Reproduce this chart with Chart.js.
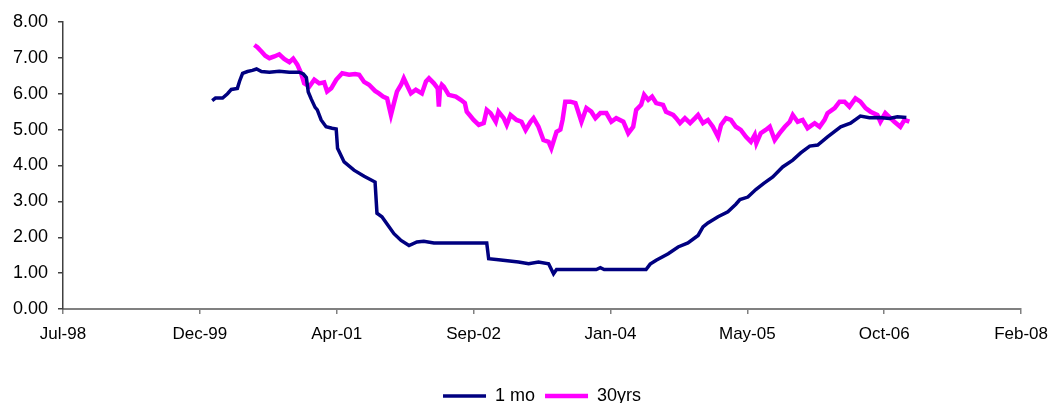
<!DOCTYPE html>
<html>
<head>
<meta charset="utf-8">
<script src="https://cdn.jsdelivr.net/npm/chart.js@4/dist/chart.umd.min.js"></script>
<style>
  html, body { margin: 0; padding: 0; background: #fff; }
  #wrap { width: 1058px; height: 403px; }
</style>
</head>
<body>
<div id="wrap"><canvas id="rates"></canvas></div>
<script>
// dates are Excel date serials (days since 1899-12-30)
const oneMoDates = [36545, 36557, 36583, 36601, 36615, 36637, 36645, 36656, 36674, 36692, 36707, 36725, 36754, 36790, 36827, 36863, 36878, 36889, 36896, 36907, 36921, 36929, 36943, 36961, 36983, 36998, 37003, 37027, 37063, 37100, 37140, 37147, 37165, 37191, 37209, 37235, 37264, 37293, 37318, 37355, 37464, 37548, 37555, 37591, 37664, 37701, 37737, 37774, 37792, 37803, 37948, 37963, 37977, 38130, 38145, 38167, 38211, 38247, 38283, 38320, 38338, 38356, 38393, 38429, 38458, 38473, 38502, 38531, 38560, 38593, 38629, 38666, 38695, 38728, 38757, 38793, 38841, 38877, 38913, 38946, 38983, 39019, 39048, 39081];
const oneMoRates = [5.81, 5.88, 5.88, 6.00, 6.12, 6.15, 6.35, 6.57, 6.62, 6.65, 6.69, 6.62, 6.60, 6.63, 6.60, 6.60, 6.55, 6.45, 6.05, 5.85, 5.62, 5.55, 5.27, 5.08, 5.04, 5.02, 4.48, 4.10, 3.87, 3.70, 3.54, 2.67, 2.57, 2.29, 2.10, 1.91, 1.77, 1.87, 1.89, 1.84, 1.84, 1.84, 1.40, 1.37, 1.31, 1.26, 1.31, 1.26, 0.98, 1.10, 1.10, 1.15, 1.10, 1.10, 1.25, 1.36, 1.54, 1.73, 1.84, 2.05, 2.29, 2.40, 2.57, 2.71, 2.92, 3.05, 3.12, 3.33, 3.50, 3.68, 3.96, 4.15, 4.35, 4.54, 4.57, 4.80, 5.08, 5.18, 5.38, 5.33, 5.34, 5.31, 5.36, 5.34];

const thirtyYrDates = [36699, 36710, 36725, 36739, 36754, 36772, 36790, 36808, 36827, 36841, 36856, 36870, 36881, 36900, 36918, 36936, 36954, 36965, 36980, 36998, 37020, 37045, 37067, 37082, 37100, 37118, 37140, 37154, 37169, 37184, 37198, 37209, 37220, 37235, 37245, 37256, 37271, 37289, 37311, 37326, 37337, 37355, 37369, 37373, 37377, 37384, 37391, 37409, 37435, 37453, 37468, 37475, 37486, 37500, 37519, 37537, 37548, 37562, 37581, 37591, 37610, 37621, 37635, 37657, 37675, 37690, 37708, 37719, 37737, 37755, 37774, 37784, 37803, 37817, 37825, 37835, 37854, 37872, 37894, 37912, 37930, 37945, 37963, 37985, 38003, 38021, 38047, 38065, 38083, 38094, 38112, 38123, 38138, 38152, 38167, 38192, 38203, 38229, 38240, 38254, 38272, 38291, 38309, 38320, 38338, 38356, 38374, 38393, 38404, 38422, 38440, 38458, 38476, 38495, 38513, 38527, 38533, 38549, 38567, 38582, 38600, 38618, 38637, 38655, 38666, 38684, 38702, 38720, 38746, 38764, 38782, 38793, 38819, 38837, 38855, 38873, 38895, 38913, 38932, 38950, 38975, 38986, 39004, 39023, 39037, 39059, 39074, 39092];
const thirtyYrRates = [7.36, 7.30, 7.18, 7.06, 6.99, 7.04, 7.10, 6.97, 6.88, 6.98, 6.81, 6.57, 6.29, 6.20, 6.39, 6.29, 6.32, 6.06, 6.15, 6.39, 6.57, 6.53, 6.55, 6.53, 6.33, 6.25, 6.08, 6.01, 5.92, 5.87, 5.41, 5.74, 6.06, 6.25, 6.43, 6.25, 6.01, 6.11, 6.01, 6.34, 6.43, 6.29, 6.15, 5.64, 6.11, 6.25, 6.20, 5.97, 5.92, 5.83, 5.74, 5.50, 5.40, 5.27, 5.13, 5.18, 5.55, 5.46, 5.22, 5.50, 5.32, 5.13, 5.41, 5.27, 5.22, 4.99, 5.22, 5.32, 5.08, 4.71, 4.66, 4.48, 4.94, 5.00, 5.27, 5.78, 5.78, 5.74, 5.22, 5.60, 5.50, 5.32, 5.46, 5.46, 5.22, 5.32, 5.22, 4.90, 5.08, 5.55, 5.69, 5.97, 5.83, 5.92, 5.74, 5.69, 5.50, 5.41, 5.32, 5.18, 5.32, 5.18, 5.32, 5.41, 5.18, 5.27, 5.08, 4.80, 5.13, 5.32, 5.27, 5.08, 4.99, 4.80, 4.66, 4.85, 4.62, 4.90, 4.99, 5.08, 4.71, 4.90, 5.08, 5.22, 5.41, 5.22, 5.27, 5.04, 5.18, 5.08, 5.27, 5.46, 5.60, 5.78, 5.78, 5.64, 5.87, 5.78, 5.60, 5.50, 5.41, 5.22, 5.46, 5.32, 5.22, 5.08, 5.27, 5.22];

// x axis: ticks every 500 days starting at serial 36000
const tickLabels = ['Jul-98', 'Dec-99', 'Apr-01', 'Sep-02', 'Jan-04', 'May-05', 'Oct-06', 'Feb-08'];
const xStart = 36000;
const xStep = 500;

const FONT = "'Liberation Sans', Arial, sans-serif";

function toPoints(dates, values) {
    return dates.map((d, i) => ({ x: d, y: values[i] }));
}

// centre the legend under the plot area instead of the whole canvas
const centreLegend = {
    id: 'centreLegend',
    afterLayout(chart) {
        const legend = chart.legend;
        const shift = (chart.chartArea.left + chart.chartArea.right) / 2 - (legend.left + legend.right) / 2;
        legend.left += shift;
        legend.right += shift;
    },
};

const ctx = document.getElementById('rates').getContext('2d');

new Chart(ctx, {
    type: 'line',
    data: {
        datasets: [
            {
                label: '1 mo',
                data: toPoints(oneMoDates, oneMoRates),
                borderColor: '#000080',
                backgroundColor: '#000080',
                borderWidth: 3.5,
                pointRadius: 0,
                tension: 0,
            },
            {
                label: '30yrs',
                data: toPoints(thirtyYrDates, thirtyYrRates),
                borderColor: '#ff00ff',
                backgroundColor: '#ff00ff',
                borderWidth: 4.5,
                pointRadius: 0,
                tension: 0,
            },
        ],
    },
    plugins: [centreLegend],
    options: {
        responsive: true,
        maintainAspectRatio: false,
        animation: false,
        layout: {
            padding: { left: 0, right: 34, top: 22, bottom: -12 },
        },
        plugins: {
            tooltip: { enabled: false },
            legend: {
                position: 'bottom',
                labels: {
                    usePointStyle: true,
                    pointStyle: 'line',
                    pointStyleWidth: 43,
                    boxHeight: 4,
                    padding: 10,
                    color: '#000',
                    font: { family: FONT, size: 18 },
                },
            },
        },
        scales: {
            x: {
                type: 'linear',
                min: xStart,
                max: xStart + xStep * (tickLabels.length - 1),
                afterFit: (scale) => { scale.height = 68; },
                ticks: {
                    stepSize: xStep,
                    autoSkip: false,
                    maxRotation: 0,
                    padding: 10,
                    color: '#000',
                    font: { family: FONT, size: 17 },
                    callback: (value) => tickLabels[Math.round((value - xStart) / xStep)],
                },
                grid: {
                    drawOnChartArea: false,
                    drawTicks: true,
                    tickLength: 5,
                    color: '#808080',
                    lineWidth: 1.5,
                },
                border: { color: '#808080', width: 2 },
            },
            y: {
                min: 0,
                max: 8,
                afterFit: (scale) => { scale.width = 63; },
                ticks: {
                    stepSize: 1,
                    padding: 10,
                    color: '#000',
                    font: { family: FONT, size: 18 },
                    callback: (value) => value.toFixed(2),
                },
                grid: {
                    drawOnChartArea: false,
                    drawTicks: true,
                    tickLength: 5,
                    color: '#404040',
                    lineWidth: 1.5,
                },
                border: { color: '#404040', width: 1.5 },
            },
        },
    },
});
</script>
</body>
</html>
